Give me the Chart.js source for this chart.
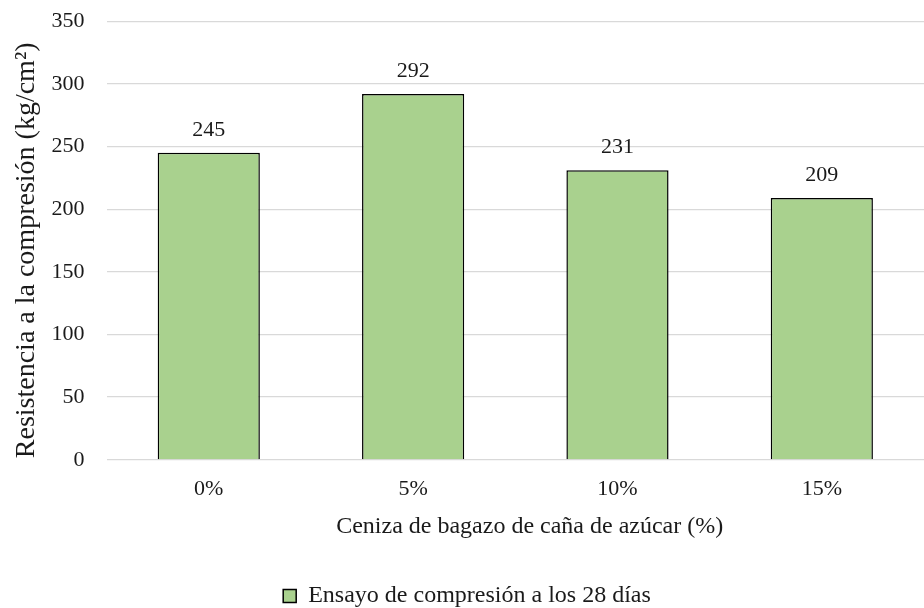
<!DOCTYPE html>
<html>
<head>
<meta charset="utf-8">
<script src="https://cdn.jsdelivr.net/npm/chart.js@4"></script>
<style>
  html, body { margin: 0; padding: 0; background: #fff; }
  #wrap { width: 924px; height: 608px; }
</style>
</head>
<body>
<div id="wrap"><canvas id="resistenciaChart"></canvas></div>
<script>
// porcentajes de ceniza y resistencia a los 28 días
const porcentajes = ['0%', '5%', '10%', '15%'];
const resistencia28 = [245, 292, 231, 209];
const serieNombre = 'Ensayo de compresión a los 28 días';

const fuente = "'Liberation Serif', 'Times New Roman', serif";
const texto = '#1a1a1a';

// etiquetas de valor encima de cada barra
const valoresEncima = {
    id: 'valoresEncima',
    afterDatasetsDraw(chart) {
        const ctx = chart.ctx;
        ctx.save();
        ctx.font = '22px ' + fuente;
        ctx.fillStyle = texto;
        ctx.textAlign = 'center';
        ctx.textBaseline = 'middle';
        chart.getDatasetMeta(0).data.forEach(function (bar, i) {
            ctx.fillText(resistencia28[i], bar.x, bar.y - 23);
        });
        ctx.restore();
    }
};

const ctx = document.getElementById('resistenciaChart').getContext('2d');
new Chart(ctx, {
    type: 'bar',
    data: {
        labels: porcentajes,
        datasets: [{
            label: serieNombre,
            data: resistencia28,
            backgroundColor: '#a9d18e',
            borderColor: '#000000',
            borderWidth: 1.5,
            barPercentage: 0.5,
            categoryPercentage: 1.0
        }]
    },
    options: {
        responsive: true,
        maintainAspectRatio: false,
        animation: false,
        layout: { padding: { left: 10, right: 0, top: -1, bottom: -10 } },
        plugins: {
            legend: {
                position: 'bottom',
                labels: {
                    color: texto,
                    font: { family: fuente, size: 24 },
                    boxWidth: 13,
                    boxHeight: 13,
                    padding: 0
                }
            },
            tooltip: { enabled: false }
        },
        scales: {
            y: {
                min: 0,
                max: 350,
                ticks: {
                    stepSize: 50,
                    color: texto,
                    font: { family: fuente, size: 22 },
                    padding: 8
                },
                grid: {
                    color: '#d9d9d9',
                    lineWidth: 1.3,
                    drawTicks: true,
                    tickLength: 14,
                    tickColor: 'rgba(0,0,0,0)'
                },
                border: { display: false },
                title: {
                    display: true,
                    // espacio final para bajar un poco el título
                    text: 'Resistencia a la compresión (kg/cm²)\u2002\u2009',
                    color: texto,
                    font: { family: fuente, size: 28 },
                    padding: { top: 0, bottom: 0 }
                }
            },
            x: {
                ticks: {
                    color: texto,
                    font: { family: fuente, size: 22 },
                    padding: 8
                },
                grid: { display: false },
                border: { display: false },
                title: {
                    display: true,
                    // espacio inicial para correr el título a la derecha
                    text: '\u2003\u2009Ceniza de bagazo de caña de azúcar (%)',
                    color: texto,
                    font: { family: fuente, size: 24 },
                    padding: { top: 2, bottom: 43 }
                }
            }
        }
    },
    plugins: [valoresEncima]
});
</script>
</body>
</html>
